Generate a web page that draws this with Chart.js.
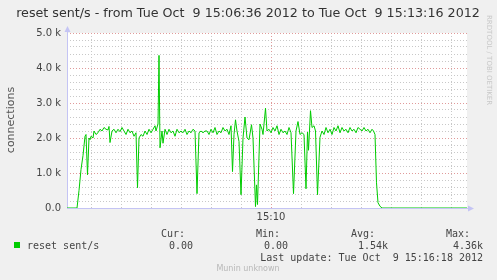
<!DOCTYPE html>
<html>
<head>
<meta charset="utf-8">
<script src="https://cdn.jsdelivr.net/npm/chart.js@4/dist/chart.umd.min.js"></script>
<style>
  html, body { margin: 0; padding: 0; background: #f0f0f0; }
  #wrap { width: 497px; height: 280px; }
</style>
</head>
<body>
<div id="wrap"><canvas id="c" width="497" height="280"></canvas></div>
<script>
// seconds since 15:06:36 and reset sent/s at that moment
const seconds = [
  0, 10, 12, 14, 16, 18, 19, 20.5, 22, 23, 24, 26, 27, 29, 31, 33, 35, 37, 39, 41,
  42, 43, 45, 47, 49, 51, 53, 55, 57, 59, 61, 63, 65, 67, 69, 70.5, 72, 74, 76, 78,
  80, 82, 84, 86, 88, 89, 91, 92, 93, 95, 96, 98, 100, 102, 104, 106, 108, 110, 112, 114,
  116, 118, 120, 122, 124, 126, 128, 130, 132, 134, 136, 138, 140, 142, 144, 146, 148, 150, 152, 154,
  156, 158, 160, 162, 164, 165.5, 167, 168.5, 170, 172, 174, 176, 178, 180, 182, 184.5, 186, 188.5, 189.5, 190.5,
  193, 195, 196, 198.5, 200, 202, 204, 206, 208, 210, 212, 214, 216, 218, 220, 222, 224, 226.5, 229, 231,
  233, 235, 237, 239, 240.5, 241.5, 243.5, 245, 247, 248.5, 250.5, 253, 255, 257, 259, 261, 263, 265, 267, 269,
  271, 273, 275, 277, 279, 281, 283, 285, 287, 289, 291, 293, 295, 297, 299, 301, 303, 305, 306.5, 308,
  309.5, 311, 313, 315, 400
];
const resets = [
  0, 0, 500, 1100, 1500, 2050, 2100, 950, 2000, 1950, 2050, 2000, 2200, 2100, 2150, 2250, 2200, 2300, 2250, 2230,
  2330, 1870, 2200, 2250, 2150, 2250, 2180, 2300, 2200, 2100, 2250, 2150, 2200, 2050, 2150, 580, 2000, 2100, 2050, 2200,
  2100, 2250, 2150, 2250, 2350, 2200, 2400, 4360, 1720, 2200, 1850, 2250, 2100, 2250, 2150, 2200, 2050, 2250, 2150, 2200,
  2150, 2250, 2100, 2200, 2150, 2250, 2200, 410, 2150, 2200, 2150, 2200, 2200, 2100, 2250, 2150, 2300, 2100, 2200, 2150,
  2300, 2200, 2250, 2100, 2350, 1040, 2100, 2520, 2200, 1900, 380, 2000, 2600, 2000, 1950, 2380, 2000, 40, 660, 100,
  2400, 2250, 2100, 2850, 2200, 2250, 2150, 2300, 2200, 2350, 2100, 2250, 2150, 2200, 2100, 2300, 2150, 410, 2200, 2470,
  2100, 2150, 2100, 550, 2170, 1650, 2780, 2300, 2350, 2200, 380, 2020, 2200, 2100, 2300, 2150, 2250, 2100, 2300, 2200,
  2350, 2150, 2300, 2200, 2250, 2150, 2300, 2200, 2250, 2150, 2300, 2250, 2200, 2300, 2200, 2250, 2150, 2250, 2200, 2100,
  720, 150, 50, 0, 0
];

// grid: every 30 s from 15:07:00, every 200 on y
const xGridSeconds = [24, 54, 84, 114, 144, 174, 204, 234, 264, 294, 324, 354, 384];
const xMajorSecond = 204;
const xLabel = "15:10";
const yGrid = [];
for (let v = 0; v <= 5000; v += 200) yGrid.push(v);

const title = "reset sent/s - from Tue Oct  9 15:06:36 2012 to Tue Oct  9 15:13:16 2012";
const yTitle = "connections";
const seriesName = "reset sent/s";
const statHeads = ["Cur:", "Min:", "Avg:", "Max:"];
const statValues = ["0.00", "0.00", "1.54k", "4.36k"];
const lastUpdate = "Last update: Tue Oct  9 15:16:18 2012";
const footer = "Munin unknown";
const watermark = "RRDTOOL / TOBI OETIKER";

const AXIS = "#c4c4f4";
const MAJOR = "#e09a9a";
const MINOR = "#c8c8c8";
const GREEN = "#00cc00";

const decorations = {
  id: "munin",
  beforeDraw(chart) {
    const { ctx, chartArea: a } = chart;
    ctx.save();
    ctx.fillStyle = "#f0f0f0";
    ctx.fillRect(0, 0, chart.width, chart.height);
    ctx.fillStyle = "#ffffff";
    ctx.fillRect(a.left, a.top, a.right - a.left, a.bottom - a.top);
    ctx.restore();
  },
  beforeDatasetsDraw(chart) {
    const { ctx, chartArea: a } = chart;
    ctx.save();
    // axis lines and arrows, under the data line
    ctx.strokeStyle = AXIS;
    ctx.fillStyle = AXIS;
    ctx.lineWidth = 1;
    ctx.beginPath();
    ctx.moveTo(a.left + 0.5, a.bottom);
    ctx.lineTo(a.left + 0.5, a.top - 4);
    ctx.moveTo(a.left, a.bottom + 0.5);
    ctx.lineTo(a.right + 3, a.bottom + 0.5);
    ctx.stroke();
    ctx.beginPath();
    ctx.moveTo(a.left - 2.5, a.top - 1);
    ctx.lineTo(a.left + 3.5, a.top - 1);
    ctx.lineTo(a.left + 0.5, a.top - 7);
    ctx.closePath();
    ctx.fill();
    ctx.beginPath();
    ctx.moveTo(a.right + 1, a.bottom - 2.5);
    ctx.lineTo(a.right + 1, a.bottom + 3.5);
    ctx.lineTo(a.right + 7, a.bottom + 0.5);
    ctx.closePath();
    ctx.fill();
    ctx.restore();
  },
  afterDraw(chart) {
    const { ctx } = chart;
    ctx.save();
    // title
    ctx.fillStyle = "#333333";
    ctx.font = "12.7px 'DejaVu Sans'";
    ctx.textAlign = "center";
    ctx.textBaseline = "middle";
    ctx.fillText(title, 248, 14);

    // y axis title
    ctx.save();
    ctx.translate(11, 120);
    ctx.rotate(-Math.PI / 2);
    ctx.fillStyle = "#555555";
    ctx.font = "11px 'DejaVu Sans'";
    ctx.fillText(yTitle, 0, 0);
    ctx.restore();

    // watermark
    ctx.save();
    ctx.translate(489, 15);
    ctx.rotate(Math.PI / 2);
    ctx.fillStyle = "#c8c8c8";
    ctx.font = "7px 'DejaVu Sans'";
    ctx.textAlign = "left";
    ctx.fillText(watermark, 0, 0);
    ctx.restore();

    // legend
    ctx.fillStyle = GREEN;
    ctx.fillRect(14, 242, 6, 6);
    ctx.font = "10px 'DejaVu Sans Mono'";
    ctx.fillStyle = "#444444";
    ctx.textAlign = "left";
    ctx.fillText(seriesName, 27, 246);
    const headRight = [185, 280, 375, 470];
    const valRight = [193, 288, 388, 483];
    ctx.textAlign = "right";
    statHeads.forEach((h, i) => ctx.fillText(h, headRight[i], 234));
    statValues.forEach((v, i) => ctx.fillText(v, valRight[i], 246));
    ctx.fillText(lastUpdate, 483, 258);

    ctx.fillStyle = "#b8b8b8";
    ctx.font = "8px 'DejaVu Sans'";
    ctx.textAlign = "center";
    ctx.fillText(footer, 248, 269);
    ctx.restore();
  }
};

new Chart(document.getElementById("c"), {
  type: "line",
  data: {
    datasets: [{
      data: seconds.map((s, i) => ({ x: s, y: resets[i] })),
      borderColor: GREEN,
      borderWidth: 1,
      pointRadius: 0,
      tension: 0,
      fill: false,
    }],
  },
  options: {
    responsive: false,
    animation: false,
    devicePixelRatio: 1,
    layout: { padding: { top: 33, right: 30, left: 0, bottom: 0 } },
    plugins: { legend: { display: false }, tooltip: { enabled: false } },
    scales: {
      x: {
        type: "linear",
        min: 0,
        max: 400,
        afterBuildTicks: (s) => { s.ticks = xGridSeconds.map((v) => ({ value: v })); },
        afterFit: (s) => { s.height = 72; },
        grid: {
          drawTicks: false,
          color: (c) => (c.tick && c.tick.value === xMajorSecond ? MAJOR : MINOR),
        },
        border: { display: false, dash: [1, 2] },
        ticks: {
          autoSkip: false,
          maxRotation: 0,
          padding: 3,
          color: "#444444",
          font: { family: "DejaVu Sans", size: 10 },
          callback: (v) => (v === xMajorSecond ? xLabel : ""),
        },
      },
      y: {
        min: 0,
        max: 5000,
        afterBuildTicks: (s) => { s.ticks = yGrid.map((v) => ({ value: v })); },
        afterFit: (s) => { s.width = 67; },
        grid: {
          drawTicks: false,
          color: (c) => {
            const v = c.tick ? c.tick.value : -1;
            if (v === 0) return "rgba(0,0,0,0)";
            return v % 1000 === 0 ? MAJOR : MINOR;
          },
        },
        border: { display: false, dash: [1, 2] },
        ticks: {
          autoSkip: false,
          padding: 6,
          color: "#444444",
          font: { family: "DejaVu Sans", size: 10 },
          callback: (v) => (v % 1000 === 0 ? (v === 0 ? "0.0" : (v / 1000).toFixed(1) + " k") : ""),
        },
      },
    },
  },
  plugins: [decorations],
});
</script>
</body>
</html>
